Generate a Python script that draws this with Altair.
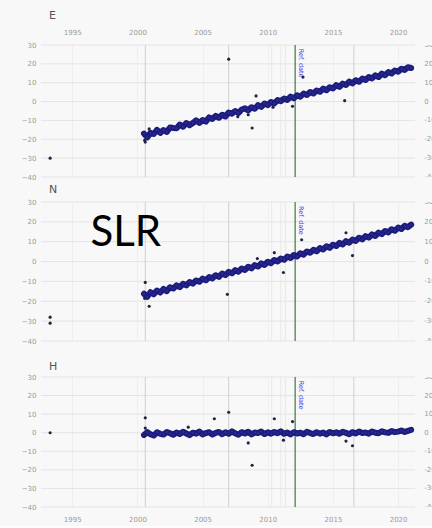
import altair as alt
import pandas as pd

# ---------------- data ----------------
times = [2000.5, 2000.75] + [y + q for y in range(2001, 2021) for q in (0.0, 0.25, 0.5, 0.75)] + [2021.0]

E_vals = [
    -17.0, -19.0, -16.6, -17.2, -15.0, -16.6, -15.1, -16.1, -13.7, -14.0,
    -14.2, -12.2, -13.3, -11.4, -12.5, -11.4, -10.0, -11.3, -9.8, -10.6,
    -8.4, -9.2, -7.6, -8.6, -7.0, -7.9, -5.8, -6.4, -5.0, -6.1,
    -4.2, -3.6, -4.7, -3.0, -3.8, -1.9, -2.8, -1.0, -1.9, -0.2,
    -1.0, 0.8, 0.2, 1.6, 0.9, 2.6, 1.8, 3.3, 2.6, 4.2,
    3.5, 5.1, 4.3, 5.9, 5.2, 6.9, 6.0, 7.6, 7.0, 8.7,
    7.8, 9.5, 8.8, 10.6, 9.6, 11.3, 10.5, 12.2, 11.4, 13.0,
    12.3, 13.9, 13.0, 14.8, 14.0, 15.6, 14.9, 16.5, 15.8, 17.4,
    16.8, 18.2, 17.8]
N_vals = [
    -16.2, -17.8, -15.4, -16.5, -14.6, -15.6, -13.8, -14.9, -12.9, -13.6,
    -12.0, -12.9, -11.2, -12.0, -10.3, -11.1, -9.5, -10.2, -8.6, -9.4,
    -7.8, -8.5, -6.9, -7.7, -6.0, -6.8, -5.2, -5.9, -4.3, -5.1,
    -3.5, -4.2, -2.6, -3.4, -1.8, -2.5, -0.9, -1.7, -0.1, -0.8,
    0.8, 0.1, 1.5, 0.9, 2.5, 1.8, 3.3, 2.6, 4.2, 3.5,
    5.1, 4.4, 5.9, 5.2, 6.8, 6.1, 7.7, 6.9, 8.5, 7.8,
    9.4, 8.6, 10.3, 9.5, 11.1, 10.4, 12.0, 11.2, 12.8, 12.1,
    13.7, 12.9, 14.6, 13.8, 15.4, 14.7, 16.3, 15.5, 17.1, 16.4,
    18.0, 17.3, 18.6]
H_vals = [
    -1.2, 0.3, -0.8, -1.5, 0.2, -0.6, -1.0, 0.4, -0.3, -1.1,
    0.1, -0.7, 0.5, -0.4, -1.3, 0.0, -0.5, 0.6, -0.9, -0.2,
    0.3, -1.0, -0.1, 0.4, -0.8, 0.2, -0.6, 0.7, -0.3, -1.1,
    0.3, -0.4, 0.5, -0.9, 0.1, -0.2, 0.6, -0.7, 0.2, -0.5,
    0.4, -0.3, 0.8, -0.6, 0.1, -0.9, 0.3, -0.4, 0.0, -0.8,
    0.5, -0.2, -0.7, 0.3, -0.5, 0.1, -0.9, 0.4, -0.3, 0.2,
    -0.6, 0.5, -0.1, -0.8, 0.3, -0.4, 0.6, -0.2, 0.1, -0.5,
    0.7, 0.0, -0.3, 0.8, 0.2, -0.1, 0.9, 0.3, 0.6, 1.2,
    0.4, 1.0, 1.5]

# isolated / outlying points
E_out_t = [1993.3, 2000.55, 2000.6, 2000.9, 2007.0, 2007.7, 2008.5, 2008.8, 2009.1, 2010.4, 2011.4, 2011.9, 2012.7, 2015.9]
E_out_v = [-30.0, -20.5, -21.5, -14.5, 22.5, -8.0, -7.0, -14.0, 3.0, -3.0, 1.5, -2.5, 13.0, 0.5]
N_out_t = [1993.3, 1993.3, 2000.55, 2000.6, 2000.9, 2006.9, 2009.2, 2010.5, 2011.2, 2012.6, 2016.0, 2016.5]
N_out_v = [-28.0, -31.0, -18.5, -10.5, -22.5, -16.5, 1.5, 4.5, -5.5, 11.0, 14.5, 3.0]
H_out_t = [1993.3, 2000.55, 2000.6, 2000.6, 2003.9, 2005.9, 2007.0, 2008.5, 2008.8, 2010.5, 2011.2, 2011.9, 2016.0, 2016.5]
H_out_v = [0.0, -1.5, 2.5, 8.0, 3.0, 7.5, 11.0, -5.5, -17.5, 7.5, -4.0, 6.0, -4.5, -7.0]

event_years = [2000.6, 2007.0, 2016.6]
faint_years = [2010.3, 2011.0]
yellow_years = [2011.35]
ref_year = [2012.1]
label_year = [2012.55]
ref_label = ["Ref. date"]

year_ticks = [1995, 2000, 2005, 2010, 2015, 2020]
y_ticks = [-40, -30, -20, -10, 0, 10, 20, 30]

X_START, X_END, X_VIEW_END, X_RLABEL = 1992.6, 2021.3, 2022.6, 2022.0

band = pd.DataFrame({"t": times, "E": E_vals, "N": N_vals, "H": H_vals})
outs = {
    "E": pd.DataFrame({"t": E_out_t, "v": E_out_v}),
    "N": pd.DataFrame({"t": N_out_t, "v": N_out_v}),
    "H": pd.DataFrame({"t": H_out_t, "v": H_out_v}),
}
ev = pd.DataFrame({"t": event_years})
fv = pd.DataFrame({"t": faint_years})
yv = pd.DataFrame({"t": yellow_years})
rv = pd.DataFrame({"t": ref_year})
lab = pd.DataFrame({"t": label_year, "v": [28.0], "txt": ref_label})
slr = pd.DataFrame({"t": [1999.1], "v": [7.7], "txt": ["SLR"]})
hgrid = pd.DataFrame({"v": y_ticks, "t0": [X_START] * len(y_ticks), "t1": [X_END] * len(y_ticks)})
rlab = pd.DataFrame({"v": y_ticks, "t": [X_RLABEL] * len(y_ticks), "txt": [str(v) for v in y_ticks]})

# ---------------- styling ----------------
NAVY = "#1c1c7c"
xscale = alt.Scale(domain=[X_START, X_VIEW_END], nice=False, zero=False)
yscale = alt.Scale(domain=[-40, 30], nice=False, zero=False)
LAB = dict(labelFontSize=7, labelColor="#9a9a9a", labelFont="DejaVu Sans", ticks=False, domain=False, title=None)


def x_axis(kind):
    if kind == "top":
        return alt.Axis(orient="top", values=year_ticks, format="d", labelPadding=10,
                        grid=True, gridColor="#efefef", **LAB)
    if kind == "bottom":
        return alt.Axis(orient="bottom", values=year_ticks, format="d", labelPadding=8,
                        grid=True, gridColor="#efefef", **LAB)
    return alt.Axis(values=year_ticks, labels=False, grid=True, gridColor="#efefef",
                    maxExtent=0, minExtent=0, **LAB)


YL = alt.Axis(orient="left", values=y_ticks, labelPadding=5, grid=False,
              minExtent=35, maxExtent=35, **LAB)


def panel(comp, kind, height, offset):
    X = alt.X("t:Q", scale=xscale, axis=x_axis(kind))
    Y = lambda f: alt.Y(f, scale=yscale, axis=YL)
    layers = [
        alt.Chart(hgrid).mark_rule(color="#e4e4e4", strokeWidth=1).encode(
            x=alt.X("t0:Q", scale=xscale, axis=x_axis(kind)), x2="t1:Q", y=Y("v:Q")),
        alt.Chart(rlab).mark_text(color="#9a9a9a", fontSize=7, align="left", baseline="middle",
                                  font="DejaVu Sans", clip=True).encode(
            x=X, y=Y("v:Q"), text="txt:N"),
        alt.Chart(ev).mark_rule(color="#c6c6c6", strokeWidth=0.8).encode(x=X),
        alt.Chart(fv).mark_rule(color="#e4e4e4", strokeWidth=0.8).encode(x=X),
        alt.Chart(yv).mark_rule(color="#eeeeaa", strokeWidth=1).encode(x=X),
        alt.Chart(rv).mark_rule(color="#3d7a3d", strokeWidth=1.2).encode(x=X),
        alt.Chart(band).mark_line(color=NAVY, strokeWidth=6, strokeJoin="round", strokeCap="round").encode(
            x=X, y=Y(f"{comp}:Q")),
        alt.Chart(band).mark_circle(color="#2a2a96", size=6, opacity=1).encode(
            x=X, y=Y(f"{comp}:Q")),
        alt.Chart(outs[comp]).mark_circle(color="#222244", size=10, opacity=1).encode(
            x=X, y=Y("v:Q")),
        alt.Chart(lab).mark_text(color="#3344ee", fontSize=6.5, angle=90, align="left",
                                 baseline="middle", font="DejaVu Sans").encode(
            x=X, y=Y("v:Q"), text="txt:N"),
    ]
    if comp == "N":
        layers.append(
            alt.Chart(slr).mark_text(color="#000000", fontSize=42, font="Lato", align="center",
                                     baseline="alphabetic").encode(
                x=X, y=Y("v:Q"), text="txt:N"))
    return alt.layer(*layers).properties(
        width=391, height=height,
        title=alt.TitleParams(comp, anchor="start", frame="group", fontSize=11, fontWeight="normal",
                              color="#555555", font="DejaVu Sans", offset=offset, dx=8))


p1 = panel("E", "top", 132, 7)
p2 = panel("N", "none", 139, 3)
p3 = panel("H", "bottom", 130, 1)

chart = alt.vconcat(alt.vconcat(p1, p2, spacing=4), p3, spacing=17).properties(
    padding={"left": 6, "right": 0, "top": 10, "bottom": 4},
    background="#f8f8f8",
).configure_view(stroke=None)

chart.save("out.html", embed_options={"renderer": "svg", "actions": False})
